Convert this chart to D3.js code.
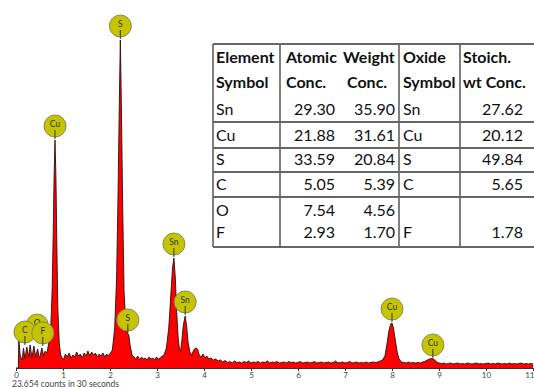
<!DOCTYPE html>
<html>
<head>
<meta charset="utf-8">
<script src="https://cdn.jsdelivr.net/npm/d3@7"></script>
<style>
  html, body { margin: 0; padding: 0; background: #fff; }
  svg { display: block; }
</style>
</head>
<body>
<svg id="chart" width="534" height="387"></svg>
<script>
// EDS spectrum: [energy keV, counts]
const spectrum = [
  [0.00, 0], [0.05, 0], [0.06, 300], [0.09, 120], [0.13, 80], [0.16, 200], [0.19, 90],
  [0.23, 210], [0.27, 110], [0.30, 230], [0.34, 100], [0.38, 220], [0.42, 110],
  [0.46, 190], [0.50, 90], [0.55, 200], [0.59, 120], [0.62, 170], [0.66, 150],
  [0.70, 260], [0.74, 400], [0.77, 800], [0.79, 1300], [0.81, 1900], [0.83, 2280],
  [0.85, 1900], [0.87, 1200], [0.89, 600], [0.92, 250], [0.95, 130], [0.98, 100],
  [1.02, 90], [1.05, 140], [1.09, 110], [1.13, 150], [1.17, 100], [1.21, 130],
  [1.25, 110], [1.29, 160], [1.33, 120], [1.37, 140], [1.41, 100], [1.45, 150],
  [1.49, 120], [1.53, 170], [1.57, 120], [1.61, 160], [1.65, 130], [1.69, 150],
  [1.73, 110], [1.77, 140], [1.81, 120], [1.85, 150], [1.89, 110], [1.93, 140],
  [1.97, 120], [2.01, 150], [2.05, 180], [2.10, 400], [2.14, 900], [2.17, 1700],
  [2.20, 2700], [2.22, 3280], [2.24, 2700], [2.27, 1600], [2.30, 750], [2.34, 420],
  [2.37, 350], [2.40, 330], [2.43, 220], [2.47, 130], [2.51, 110], [2.55, 90],
  [2.59, 120], [2.63, 80], [2.67, 110], [2.71, 90], [2.75, 100], [2.79, 80],
  [2.83, 110], [2.87, 90], [2.91, 100], [2.95, 80], [2.99, 110], [3.03, 90],
  [3.07, 100], [3.11, 120], [3.15, 130], [3.20, 200], [3.25, 400], [3.29, 700],
  [3.33, 1000], [3.36, 1100], [3.39, 900], [3.42, 550], [3.45, 300], [3.48, 180],
  [3.50, 160], [3.53, 280], [3.56, 430], [3.60, 520], [3.63, 420], [3.66, 260],
  [3.70, 160], [3.74, 130], [3.78, 180], [3.82, 200], [3.86, 190], [3.90, 130],
  [3.94, 110], [3.98, 140], [4.02, 100], [4.06, 120], [4.10, 90], [4.15, 100],
  [4.20, 80], [4.25, 90], [4.30, 70], [4.35, 80], [4.40, 60], [4.45, 75],
  [4.50, 55], [4.55, 65], [4.60, 50], [4.65, 70], [4.70, 55], [4.75, 60],
  [4.80, 50], [4.85, 65], [4.90, 55], [4.95, 70], [5.00, 50], [5.05, 60],
  [5.10, 55], [5.15, 65], [5.20, 50], [5.25, 60], [5.30, 55], [5.35, 70],
  [5.40, 50], [5.45, 60], [5.50, 55], [5.55, 65], [5.60, 50], [5.65, 55],
  [5.70, 60], [5.75, 50], [5.80, 65], [5.85, 55], [5.90, 60], [5.95, 50],
  [6.00, 55], [6.05, 65], [6.10, 50], [6.15, 55], [6.20, 60], [6.25, 50],
  [6.30, 55], [6.35, 65], [6.40, 50], [6.45, 55], [6.50, 60], [6.55, 50],
  [6.60, 55], [6.65, 60], [6.70, 50], [6.75, 55], [6.80, 70], [6.85, 50],
  [6.90, 55], [6.95, 60], [7.00, 50], [7.05, 55], [7.10, 65], [7.15, 50],
  [7.20, 55], [7.25, 60], [7.30, 50], [7.35, 55], [7.40, 50], [7.45, 60],
  [7.50, 50], [7.55, 55], [7.60, 60], [7.65, 55], [7.70, 60], [7.75, 70],
  [7.80, 80], [7.85, 120], [7.89, 230], [7.93, 360], [7.97, 440], [8.00, 450],
  [8.03, 400], [8.07, 280], [8.11, 160], [8.15, 90], [8.20, 60], [8.25, 55],
  [8.30, 50], [8.35, 60], [8.40, 50], [8.45, 55], [8.50, 50], [8.55, 55],
  [8.60, 50], [8.65, 60], [8.70, 65], [8.75, 80], [8.80, 90], [8.85, 95],
  [8.90, 85], [8.95, 60], [9.00, 50], [9.05, 45], [9.10, 50], [9.15, 40],
  [9.20, 45], [9.25, 50], [9.30, 40], [9.35, 45], [9.40, 50], [9.45, 40],
  [9.50, 45], [9.55, 40], [9.60, 50], [9.65, 45], [9.70, 40], [9.75, 45],
  [9.80, 50], [9.85, 40], [9.90, 45], [9.95, 40], [10.00, 45], [10.05, 50],
  [10.10, 40], [10.15, 45], [10.20, 40], [10.25, 50], [10.30, 45], [10.35, 40],
  [10.40, 45], [10.45, 40], [10.50, 50], [10.55, 40], [10.60, 45], [10.65, 40],
  [10.70, 45], [10.75, 50], [10.80, 40], [10.85, 45], [10.90, 40], [10.95, 45],
  [11.00, 40]
];

// Element markers: symbol, energy (keV), count level the marker points at
const markerSymbols = ["O", "C", "F", "Cu", "S", "S", "Sn", "Sn", "Cu", "Cu"];
const markerEnergy  = [0.45, 0.19, 0.57, 0.83, 2.22, 2.38, 3.36, 3.60, 8.00, 8.87];
const markerLevel   = [290, 220, 210, 2280, 3280, 340, 1100, 520, 450, 90];

const xTicks = [0, 1, 2, 3, 4, 5, 6, 7, 8, 9, 10, 11];
const countsCaption = "23,654 counts in 30 seconds";

// Quantification table
const tableHeader1 = ["Element", "Atomic", "Weight", "Oxide", "Stoich."];
const tableHeader2 = ["Symbol", "Conc.", "Conc.", "Symbol", "wt Conc."];
const tableElements = ["Sn", "Cu", "S", "C", "O", "F"];
const atomicConc = ["29.30", "21.88", "33.59", "5.05", "7.54", "2.93"];
const weightConc = ["35.90", "31.61", "20.84", "5.39", "4.56", "1.70"];
const oxideSymbol = ["Sn", "Cu", "S", "C", "", "F"];
const stoichConc = ["27.62", "20.12", "49.84", "5.65", "", "1.78"];

const svg = d3.select("#chart");

const x = d3.scaleLinear().domain([0, 11]).range([16, 533]);
const y = d3.scaleLinear().domain([0, 3400]).range([368, 28]);

// Spectrum fill and outline
const area = d3.area().x(d => x(d[0])).y0(y(0)).y1(d => y(d[1]));
const line = d3.line().x(d => x(d[0])).y(d => y(d[1]));

svg.append("path")
  .datum(spectrum)
  .attr("d", area)
  .attr("fill", "#ff0000");

svg.append("path")
  .datum(spectrum)
  .attr("d", line)
  .attr("fill", "none")
  .attr("stroke", "#2a1010")
  .attr("stroke-width", 0.9)
  .attr("stroke-linejoin", "round");

// Energy axis
const axis = d3.axisBottom(x)
  .tickValues(xTicks)
  .tickFormat(d3.format("d"))
  .tickSize(3)
  .tickSizeOuter(0);

const gAxis = svg.append("g")
  .attr("transform", `translate(0,${y(0)})`)
  .call(axis);
gAxis.select(".domain").attr("stroke", "#333").attr("stroke-width", 1.2);
gAxis.selectAll(".tick line").attr("stroke", "#333");
gAxis.selectAll(".tick text")
  .attr("fill", "#444")
  .attr("font-family", "Lato, 'DejaVu Sans', sans-serif")
  .attr("font-size", 8)
  .attr("y", 9.5)
  .attr("dy", 0)
  .attr("text-anchor", d => d === 11 ? "end" : "middle")
  .attr("x", d => d === 11 ? 1 : 0);

svg.append("text")
  .attr("x", 12)
  .attr("y", 386.5)
  .attr("fill", "#444")
  .attr("font-family", "Lato, 'DejaVu Sans', sans-serif")
  .attr("font-size", 8.5)
  .text(countsCaption);

// Element markers
const r = 11;
const markers = svg.append("g").selectAll("g")
  .data(markerSymbols.map((s, i) => ({ s, e: markerEnergy[i], c: markerLevel[i] })))
  .join("g")
  .attr("transform", d => `translate(${x(d.e)},${y(d.c) - 14})`);

markers.append("circle")
  .attr("r", r)
  .attr("fill", "#c4c400")
  .attr("stroke", "#8a8a5a")
  .attr("stroke-width", 1);

markers.append("line")
  .attr("x1", 0).attr("x2", 0)
  .attr("y1", 4).attr("y2", r + 2)
  .attr("stroke", "#333")
  .attr("stroke-width", 1);

markers.append("text")
  .attr("text-anchor", "middle")
  .attr("y", 1)
  .attr("fill", "#333")
  .attr("font-family", "Lato, 'DejaVu Sans', sans-serif")
  .attr("font-size", 8.5)
  .text(d => d.s);

// Table
const tbl = svg.append("g")
  .attr("font-family", "Lato, 'DejaVu Sans', sans-serif")
  .attr("font-size", 16)
  .attr("fill", "#111");

const colLeft = [216, 286, 343, 403, 463];
const numRight = [null, 335, 395, null, 523];
const headerY = [63, 88];
const rowY = [115, 141, 165, 190, 216, 238];
const vLines = [213, 280, 399, 460];
const hLines = [44, 122, 148, 172, 197, 247];
const weightHeader2X = 347;

tbl.selectAll("line.v").data(vLines).join("line")
  .attr("x1", d => d).attr("x2", d => d)
  .attr("y1", hLines[0]).attr("y2", hLines[hLines.length - 1])
  .attr("stroke", "#555").attr("stroke-width", 1.5);

tbl.selectAll("line.h").data(hLines).join("line")
  .attr("x1", vLines[0]).attr("x2", 534)
  .attr("y1", d => d).attr("y2", d => d)
  .attr("stroke", "#666").attr("stroke-width", 1.8);

tableHeader1.forEach((t, i) => {
  tbl.append("text").attr("x", colLeft[i]).attr("y", headerY[0])
    .attr("font-weight", "bold").text(t);
});
tableHeader2.forEach((t, i) => {
  tbl.append("text").attr("x", i === 2 ? weightHeader2X : colLeft[i]).attr("y", headerY[1])
    .attr("font-weight", "bold").text(t);
});

tableElements.forEach((el, i) => {
  tbl.append("text").attr("x", colLeft[0]).attr("y", rowY[i]).text(el);
  tbl.append("text").attr("x", numRight[1]).attr("y", rowY[i])
    .attr("text-anchor", "end").text(atomicConc[i]);
  tbl.append("text").attr("x", numRight[2]).attr("y", rowY[i])
    .attr("text-anchor", "end").text(weightConc[i]);
  tbl.append("text").attr("x", colLeft[3]).attr("y", rowY[i]).text(oxideSymbol[i]);
  tbl.append("text").attr("x", numRight[4]).attr("y", rowY[i])
    .attr("text-anchor", "end").text(stoichConc[i]);
});
</script>
</body>
</html>
